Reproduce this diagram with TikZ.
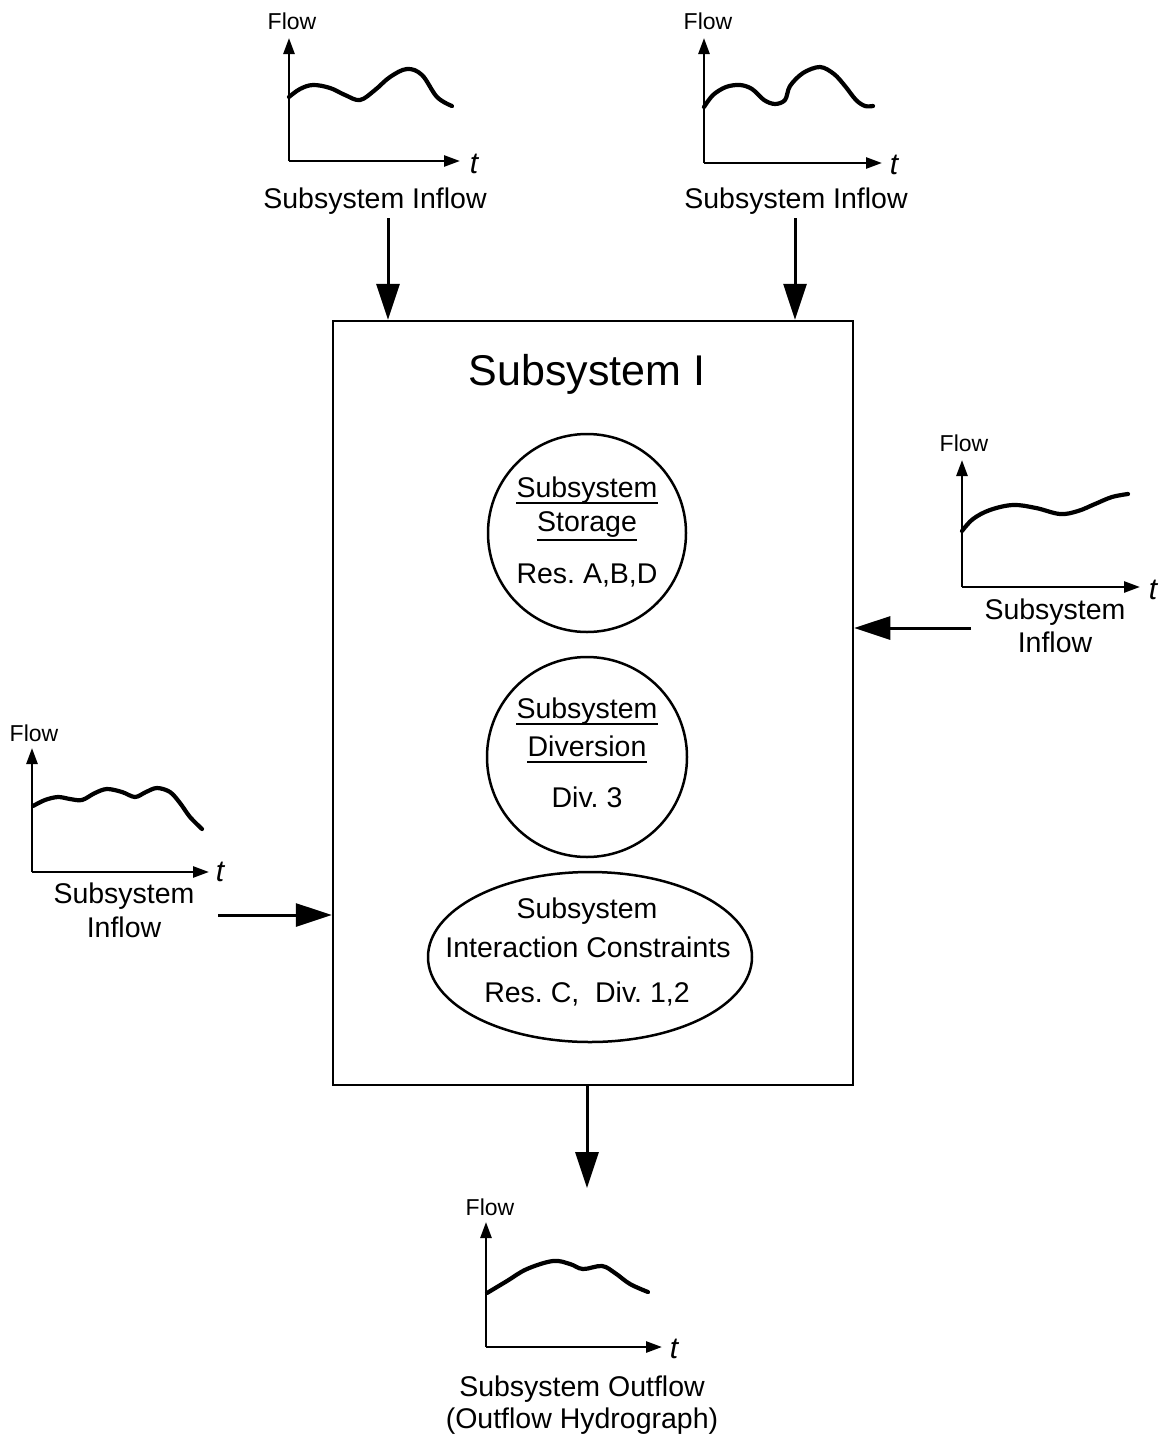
\documentclass[tikz,border=0pt]{standalone}
\usepackage{fontspec}
\setmainfont{Liberation Sans}
\usetikzlibrary{arrows.meta,shapes.geometric}
\frenchspacing
\begin{document}
\begin{tikzpicture}[x=1pt,y=-1pt,
  lbl/.style={font=\fontsize{28.5}{34}\selectfont, inner sep=0pt},
  title/.style={font=\fontsize{43}{50}\selectfont, inner sep=0pt},
  flowlbl/.style={font=\fontsize{23}{27}\selectfont, inner sep=0pt},
  tlbl/.style={font=\fontsize{30}{34}\selectfont\itshape, inner sep=0pt},
  axis/.style={line width=2.6pt, -{Triangle[length=16pt,width=11pt]}},
  curve/.style={line width=4.2pt, line cap=round, line join=round},
  bigarrow/.style={line width=3pt, -{Triangle[length=36pt,width=23pt]}},
  shapeline/.style={draw, line width=2.5pt, inner sep=0pt},
  ulline/.style={line width=2.2pt}
]
\useasboundingbox (0,0) rectangle (1162,1440);

% ---------- main box ----------
\node[shapeline, minimum width=520pt, minimum height=764pt] (box) at (593,703) {};
\node[title] (boxtitle) at (587,374) {Subsystem I};

% storage circle
\node[shapeline, circle, minimum size=198pt] (stor) at (587,533) {};
\node[lbl] (stor1) at (587,490) {Subsystem};
\node[lbl] (stor2) at (587,525) {Storage};
\node[lbl] (stor3) at (587,576) {Res. A,B,D};
\draw[ulline] ([yshift=-6pt]stor1.base west) -- ([yshift=-6pt]stor1.base east);
\draw[ulline] ([yshift=-8pt]stor2.base west) -- ([yshift=-8pt]stor2.base east);

% diversion circle
\node[shapeline, circle, minimum size=200pt] (div) at (587,757) {};
\node[lbl] (div1) at (587,711) {Subsystem};
\node[lbl] (div2) at (587,746) {Diversion};
\node[lbl] (div3) at (587,797) {Div. 3};
\draw[ulline] ([yshift=-6pt]div1.base west) -- ([yshift=-6pt]div1.base east);
\draw[ulline] ([yshift=-6pt]div2.base west) -- ([yshift=-6pt]div2.base east);

% interaction ellipse
\node[shapeline, ellipse, minimum width=324pt, minimum height=170pt] (inter) at (590,957) {};
\node[lbl] (inter1) at (587,911) {Subsystem};
\node[lbl] (inter2) at (588,947) {Interaction Constraints};
\node[lbl] (inter3) at (587,994) {Res. C,\ \ Div. 1,2};

% ---------- graph 1 (top left) ----------
\coordinate (o1) at (289,161);
\coordinate (y1) at (289,38);
\coordinate (x1) at (460,161);
\draw[axis] (o1) -- (y1);
\draw[axis] (o1) -- (x1);
\node[flowlbl] (f1) at (292,21) {Flow};
\node[tlbl] (t1) at (474,164) {t};
\draw[curve] plot[smooth, tension=0.6] coordinates {(289,97) (300,89) (313,85) (330,88) (345,95) (360,100) (375,90) (390,77) (407,69) (422,75) (437,97) (452,106)};
\node[lbl] (l1) at (375,201) {Subsystem Inflow};
\coordinate (a1) at (388,218);
\draw[bigarrow] (a1) -- (a1 |- box.north);

% ---------- graph 2 (top right) ----------
\coordinate (o2) at (704,163);
\coordinate (y2) at (704,38);
\coordinate (x2) at (882,163);
\draw[axis] (o2) -- (y2);
\draw[axis] (o2) -- (x2);
\node[flowlbl] (f2) at (708,21) {Flow};
\node[tlbl] (t2) at (894,165) {t};
\draw[curve] plot[smooth, tension=0.55] coordinates {(704,107) (713,95) (726,87) (740,85) (752,89) (764,100) (775,104) (785,100) (790,86) (803,73) (820,67) (834,74) (845,86) (856,100) (865,106) (873,106)};
\node[lbl] (l2) at (796,201) {Subsystem Inflow};
\coordinate (a2) at (795,218);
\draw[bigarrow] (a2) -- (a2 |- box.north);

% ---------- graph 3 (right) ----------
\coordinate (o3) at (962,587);
\coordinate (y3) at (962,460);
\coordinate (x3) at (1140,587);
\draw[axis] (o3) -- (y3);
\draw[axis] (o3) -- (x3);
\node[flowlbl] (f3) at (964,443) {Flow};
\node[tlbl] (t3) at (1153,590) {t};
\draw[curve] plot[smooth, tension=0.6] coordinates {(962,531) (973,519) (990,510) (1013,505) (1036,508) (1060,514) (1078,511) (1095,504) (1112,497) (1128,494)};
\node[lbl] (l3a) at (1055,612) {Subsystem};
\node[lbl] (l3b) at (1055,642) {Inflow};
\coordinate (a3) at (971,628);
\draw[bigarrow] (a3) -- (a3 -| box.east);

% ---------- graph 4 (left) ----------
\coordinate (o4) at (32,872);
\coordinate (y4) at (32,748);
\coordinate (x4) at (209,872);
\draw[axis] (o4) -- (y4);
\draw[axis] (o4) -- (x4);
\node[flowlbl] (f4) at (34,733) {Flow};
\node[tlbl] (t4) at (220,872) {t};
\draw[curve] plot[smooth, tension=0.55] coordinates {(33,806) (45,800) (58,797) (70,799) (82,800) (95,793) (107,789) (122,792) (135,797) (146,792) (157,788) (170,792) (180,803) (190,817) (202,829)};
\node[lbl] (l4a) at (124,896) {Subsystem};
\node[lbl] (l4b) at (124,927) {Inflow};
\coordinate (a4) at (218,915);
\draw[bigarrow] (a4) -- (a4 -| box.west);

% ---------- graph 5 (bottom) ----------
\coordinate (o5) at (486,1347);
\coordinate (y5) at (486,1222);
\coordinate (x5) at (662,1347);
\draw[axis] (o5) -- (y5);
\draw[axis] (o5) -- (x5);
\node[flowlbl] (f5) at (490,1207) {Flow};
\node[tlbl] (t5) at (674,1349) {t};
\draw[curve] plot[smooth, tension=0.6] coordinates {(487,1293) (507,1281) (527,1269) (553,1261) (570,1264) (583,1269) (602,1266) (615,1273) (630,1284) (648,1292)};
\node[lbl] (l5a) at (582,1389) {Subsystem Outflow};
\node[lbl] (l5b) at (582,1421) {(Outflow Hydrograph)};
\coordinate (a5) at (587,1188);
\draw[bigarrow] (a5 |- box.south) -- (a5);
\end{tikzpicture}
\end{document}
